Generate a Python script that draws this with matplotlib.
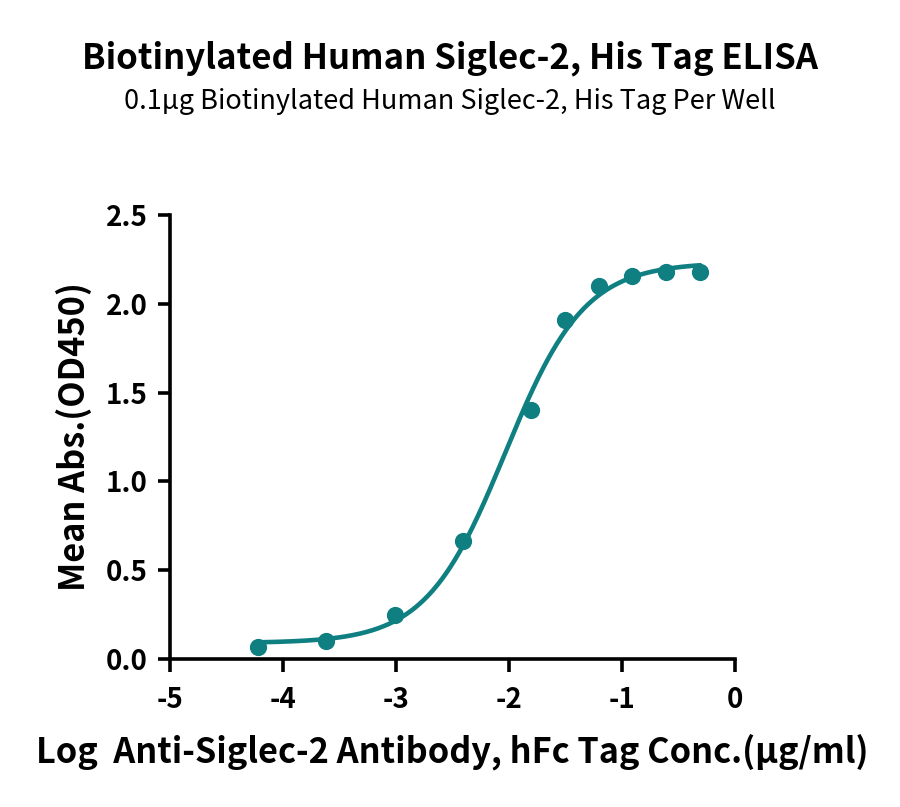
import numpy as np
import matplotlib
matplotlib.use("Agg")
import matplotlib.pyplot as plt

plt.rcParams['font.family'] = ['Noto Sans CJK SC', 'DejaVu Sans']

# log10 concentration (ug/ml) and mean OD450
log_conc = [-4.22, -3.62, -3.01, -2.41, -1.81, -1.51, -1.21, -0.91, -0.61, -0.31]
mean_abs = [0.068, 0.105, 0.25, 0.665, 1.40, 1.91, 2.10, 2.155, 2.175, 2.175]

couleur = '#0f7f82'


def courbe_4pl(x, bas, haut, ec50, pente):
    return bas + (haut - bas) / (1 + 10 ** ((ec50 - x) * pente))


# ajustement 4PL : recherche sur ec50/pente, bas/haut par moindres carres
x = np.array(log_conc)
y = np.array(mean_abs)
meilleur = None
for ec50 in np.linspace(-2.6, -1.6, 201):
    for pente in np.linspace(0.5, 2.5, 201):
        f = 1 / (1 + 10 ** ((ec50 - x) * pente))
        A = np.column_stack([1 - f, f])
        coef, res, _, _ = np.linalg.lstsq(A, y, rcond=None)
        err = np.sum((A @ coef - y) ** 2)
        if meilleur is None or err < meilleur[0]:
            meilleur = (err, coef[0], coef[1], ec50, pente)
_, bas, haut, ec50, pente = meilleur

xs = np.linspace(min(log_conc), max(log_conc), 300)

fig = plt.figure(figsize=(9, 8.07), dpi=100)
ax = fig.add_axes([0.189, 0.183, 0.628, 0.551])

ax.plot(xs, courbe_4pl(xs, bas, haut, ec50, pente), color=couleur, lw=3.3, solid_capstyle='round')
ax.scatter(log_conc, mean_abs, s=130, color=couleur, zorder=3, clip_on=False)

ax.set_xlim(-5, 0)
ax.set_ylim(0, 2.5)
ax.set_xticks([-5, -4, -3, -2, -1, 0])
ax.set_xticklabels(['-5', '-4', '-3', '-2', '-1', '0'])
ax.set_yticks([0, 0.5, 1.0, 1.5, 2.0, 2.5])
ax.set_yticklabels(['0.0', '0.5', '1.0', '1.5', '2.0', '2.5'])

for s in ['top', 'right']:
    ax.spines[s].set_visible(False)
for s in ['left', 'bottom']:
    ax.spines[s].set_linewidth(2.6)
ax.tick_params(width=2.6, length=9, labelsize=20, pad=7)
ax.tick_params(axis='x', pad=10)
for lab in ax.get_xticklabels() + ax.get_yticklabels():
    lab.set_fontweight('bold')

ax.set_xlabel('Log  Anti-Siglec-2 Antibody, hFc Tag Conc.(µg/ml)', fontsize=24.7, fontweight='bold', labelpad=14)
ax.set_ylabel('Mean Abs.(OD450)', fontsize=24.7, fontweight='bold', labelpad=10)

fig.text(0.5, 0.928, 'Biotinylated Human Siglec-2, His Tag ELISA', ha='center', va='center',
         fontsize=25, fontweight='bold')
fig.text(0.5, 0.874, '0.1µg Biotinylated Human Siglec-2, His Tag Per Well', ha='center', va='center',
         fontsize=19.5)

fig.savefig('out.png', dpi=100)
